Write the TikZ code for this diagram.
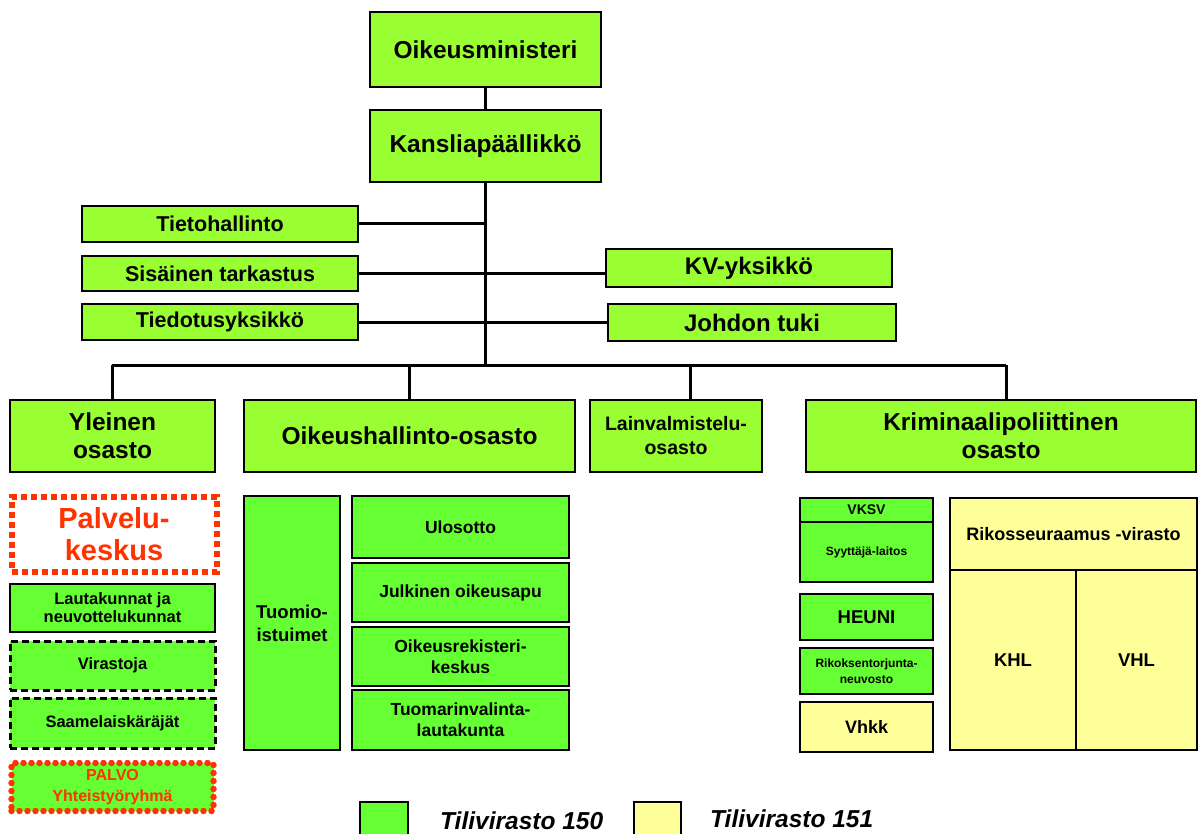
\documentclass[tikz,border=0pt]{standalone}
\usepackage{fontspec}
\setmainfont{Liberation Sans}
\definecolor{topgreen}{HTML}{99FF33}
\definecolor{boxgreen}{HTML}{66FF33}
\definecolor{boxyellow}{HTML}{FFFF99}
\definecolor{palvored}{HTML}{FF3300}
\begin{document}
\begin{tikzpicture}[x=1pt,y=-1pt,
  box/.style={draw=black, line width=2.5pt, inner sep=0pt, align=center},
  topbox/.style={box, fill=topgreen},
  gbox/.style={box, fill=boxgreen},
  ybox/.style={box, fill=boxyellow},
  fsz/.style 2 args={font=\bfseries\fontsize{#1}{#2}\selectfont},
  conn/.style={draw=black, line width=3pt},
  dashbox/.style={gbox, dash pattern=on 7pt off 4pt, line width=3pt},
]
\useasboundingbox (0,0) rectangle (1198,834);

% top
\node[topbox, fsz={24.5}{28}, minimum width=231pt, minimum height=75pt] (om) at (485.5,49.5) {Oikeusministeri};
\node[topbox, fsz={24.5}{28}, minimum width=231pt, minimum height=72pt] (kp) at (485.5,146) {Kansliapäällikkö};

\node[topbox, fsz={21.5}{25}, minimum width=276pt, minimum height=36pt] (th) at (220,224) {Tietohallinto};
\node[topbox, fsz={21.5}{25}, minimum width=276pt, minimum height=35pt] (st) at (220,273.5) {Sisäinen tarkastus};
\node[topbox, fsz={21.5}{25}, minimum width=276pt, minimum height=36pt] (ty) at (220,322) {Tiedotusyksikkö};
\node[topbox, fsz={24}{28}, minimum width=286pt, minimum height=38pt] (kv) at (749,268) {KV-yksikkö};
\node[topbox, fsz={24}{28}, minimum width=288pt, minimum height=37pt] (jt) at (752,322.5) {Johdon tuki};

% departments
\node[topbox, fsz={24.5}{28}, minimum width=205pt, minimum height=72pt] (yo) at (112.5,436) {Yleinen\\osasto};
\node[topbox, fsz={24.5}{28}, minimum width=331pt, minimum height=72pt] (oh) at (409.5,436) {Oikeushallinto-osasto};
\node[topbox, fsz={19.5}{24}, minimum width=172pt, minimum height=72pt] (lv) at (676,436) {Lainvalmistelu-\\osasto};
\node[topbox, fsz={24.5}{28}, minimum width=390pt, minimum height=72pt] (kr) at (1001,436) {Kriminaalipoliittinen\\osasto};

% connectors
\coordinate (busL) at (112,365);
\coordinate (busR) at (1006,365);
\coordinate (lvd) at (690,365);
\draw[conn] (om.south) -- (kp.south |- om.south) -- (kp.north);
\draw[conn] (kp.south) -- (kp.south |- busL);
\draw[conn] (th.east) -- (th.east -| kp.south);
\draw[conn] (st.east) -- (st.east -| kv.west);
\draw[conn] (ty.east) -- (ty.east -| jt.west);
\draw[conn] (busL) -- (busR);
\draw[conn] (busL) -- (busL |- yo.north);
\draw[conn] (oh.north |- busL) -- (oh.north);
\draw[conn] (lvd) -- (lvd |- lv.north);
\draw[conn] (busR) -- (busR |- kr.north);

% left column
\node[box, draw=palvored, text=palvored, fill=white, line width=6pt, dash pattern=on 6pt off 4pt,
      fsz={29}{32}, minimum width=205pt, minimum height=75pt] (pk) at (114,534) {Palvelu-\\keskus};
\node[gbox, fsz={16.5}{18}, minimum width=205pt, minimum height=48pt] (la) at (112.5,608) {Lautakunnat ja\\neuvottelukunnat};
\node[dashbox, fsz={16.5}{18}, minimum width=205pt, minimum height=49pt] (vi) at (112.5,665.5) {Virastoja};
\node[dashbox, fsz={16.5}{18}, minimum width=205pt, minimum height=50pt] (sa) at (112.5,723) {Saamelaiskäräjät};
\node[gbox, draw=palvored, text=palvored, line width=6.5pt, dash pattern=on 0pt off 8pt, line cap=round,
      fsz={16}{21}, minimum width=202pt, minimum height=48pt] (pa) at (112.5,787) {PALVO\\Yhteistyöryhmä};

% middle column
\node[gbox, fsz={18.5}{23}, minimum width=96pt, minimum height=254pt] (tu) at (292,623) {Tuomio-\\istuimet};
\node[gbox, fsz={17.5}{21}, minimum width=217pt, minimum height=62pt] (ul) at (460.5,527) {Ulosotto};
\node[gbox, fsz={17.5}{21}, minimum width=217pt, minimum height=59pt] (jo) at (460.5,592.5) {Julkinen oikeusapu};
\node[gbox, fsz={17.5}{21}, minimum width=217pt, minimum height=59pt] (or) at (460.5,656.5) {Oikeusrekisteri-\\keskus};
\node[gbox, fsz={17.5}{21}, minimum width=217pt, minimum height=60pt] (tv) at (460.5,720) {Tuomarinvalinta-\\lautakunta};

% right column
\node[gbox, fsz={14}{16}, minimum width=133pt, minimum height=24pt] (vk) at (866.5,510) {VKSV};
\node[gbox, fsz={12}{14}, minimum width=133pt, minimum height=60pt] (sy) at (866.5,552) {Syyttäjä-laitos};
\node[gbox, fsz={18.5}{21}, minimum width=133pt, minimum height=46pt] (he) at (866.5,617) {HEUNI};
\node[gbox, fsz={12}{16}, minimum width=133pt, minimum height=46pt] (rt) at (866.5,671) {Rikoksentorjunta-\\neuvosto};
\node[ybox, fsz={18}{21}, minimum width=133pt, minimum height=50pt] (vh) at (866.5,727) {Vhkk};

\node[ybox, fsz={18}{21}, minimum width=247pt, minimum height=72pt] (rs) at (1073.5,534) {Rikosseuraamus -virasto};
\node[ybox, fsz={18.5}{21}, minimum width=126pt, minimum height=180pt] (kh) at (1013,660) {KHL};
\node[ybox, fsz={18.5}{21}, minimum width=121pt, minimum height=180pt] (vl) at (1136.5,660) {VHL};

% legend
\node[gbox, minimum width=48pt, minimum height=40pt] (lg1) at (384,822) {};
\node[anchor=west, inner sep=0pt, font=\bfseries\itshape\fontsize{24.5}{28}\selectfont] (lt1) at (440,821) {Tilivirasto 150};
\node[ybox, minimum width=47pt, minimum height=40pt] (lg2) at (657.5,822) {};
\node[anchor=west, inner sep=0pt, font=\bfseries\itshape\fontsize{24.5}{28}\selectfont] (lt2) at (710,819) {Tilivirasto 151};
\end{tikzpicture}
\end{document}
